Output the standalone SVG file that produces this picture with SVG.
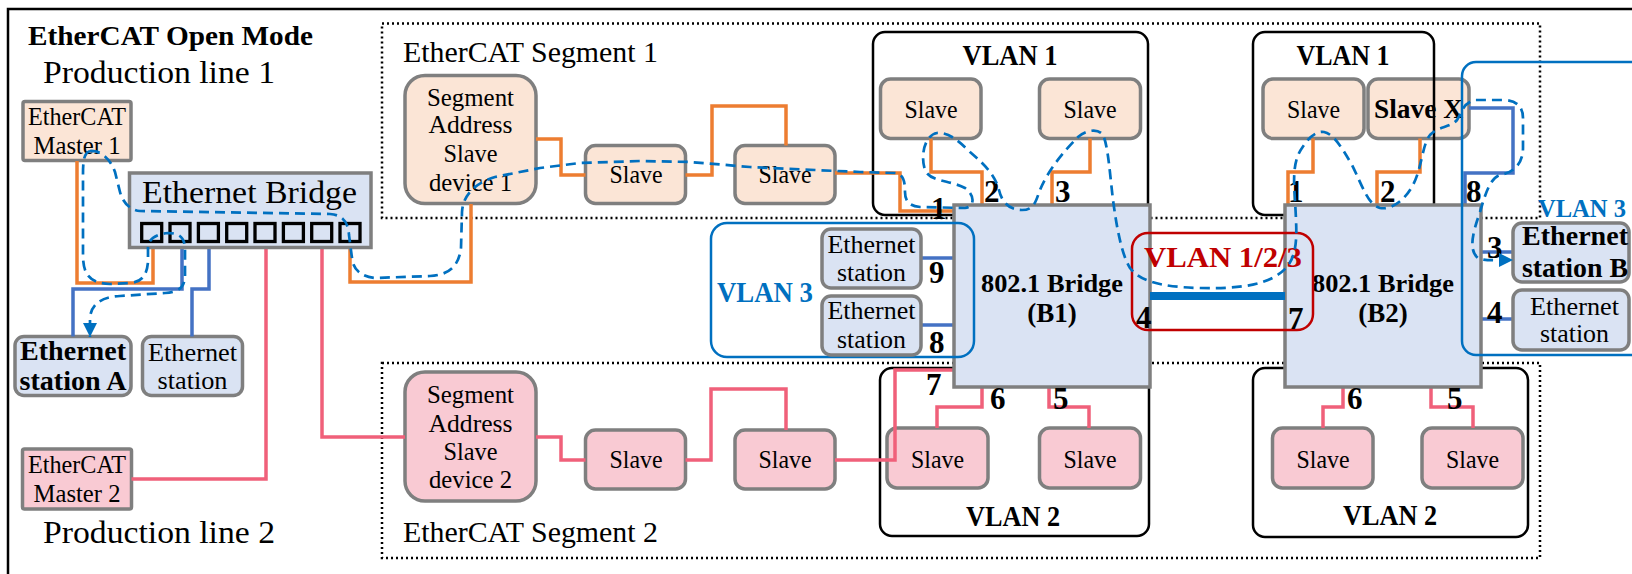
<svg xmlns="http://www.w3.org/2000/svg" width="1632" height="574" viewBox="0 0 1632 574">
<defs>
<style>
text{font-family:"Liberation Serif","Times New Roman",serif;fill:#000}
.b{font-weight:bold}
.m{text-anchor:middle}
.peach{fill:#FBE5D6;stroke:#7F7F7F;stroke-width:3.5}
.pink{fill:#F9CAD3;stroke:#7F7F7F;stroke-width:3.5}
.lb{fill:#DAE3F3;stroke:#7F7F7F;stroke-width:3.5}
.dot{fill:none;stroke:#000;stroke-width:2.5;stroke-dasharray:2 3}
.vlan{fill:none;stroke:#000;stroke-width:2.5}
.wo{fill:none;stroke:#ED7D31;stroke-width:3.5}
.wp{fill:none;stroke:#F0607A;stroke-width:3.5}
.wb{fill:none;stroke:#4472C4;stroke-width:3.5}
.dash{fill:none;stroke:#0070C0;stroke-width:2.7;stroke-dasharray:10 6}
.port{fill:#DAE3F3;stroke:#000;stroke-width:3.3}
.n{font-weight:bold;font-size:31px}
.s24{font-size:26px}
.v{font-weight:bold;font-size:29px}
</style>
<marker id="ah" markerUnits="userSpaceOnUse" markerWidth="16" markerHeight="16" refX="14" refY="7" orient="auto"><path d="M0,0 L14,7 L0,14 z" fill="#0070C0"/></marker>
</defs>
<rect x="0" y="0" width="1632" height="574" fill="#fff"/>
<rect x="8" y="9" width="1700" height="700" fill="none" stroke="#000" stroke-width="2.5"/>
<text x="28" y="45" class="b" font-size="27" textLength="285" lengthAdjust="spacingAndGlyphs">EtherCAT Open Mode</text>
<text x="43" y="83" font-size="32" textLength="232" lengthAdjust="spacingAndGlyphs">Production line 1</text>
<text x="43" y="543" font-size="32" textLength="232" lengthAdjust="spacingAndGlyphs">Production line 2</text>

<g id="segment1"><rect x="382" y="23.5" width="1158" height="194.5" class="dot"/>
<text x="403" y="62" font-size="30" textLength="255" lengthAdjust="spacingAndGlyphs">EtherCAT Segment 1</text></g>
<g id="segment2"><rect x="382" y="363" width="1158" height="195" class="dot"/>
<text x="403" y="542" font-size="30" textLength="255" lengthAdjust="spacingAndGlyphs">EtherCAT Segment 2</text></g>

<g id="master1"><rect x="23" y="101.5" width="108" height="59" rx="2" class="peach"/>
<text x="77" y="125" class="m" font-size="24.5" textLength="98" lengthAdjust="spacingAndGlyphs">EtherCAT</text>
<text x="77" y="154" class="m" font-size="24.5" textLength="87" lengthAdjust="spacingAndGlyphs">Master 1</text></g>
<g id="master2"><rect x="22.5" y="449" width="109" height="60" rx="2" class="pink"/>
<text x="77" y="473" class="m" font-size="24.5" textLength="98" lengthAdjust="spacingAndGlyphs">EtherCAT</text>
<text x="77" y="502" class="m" font-size="24.5" textLength="87" lengthAdjust="spacingAndGlyphs">Master 2</text></g>

<g id="stationA"><rect x="15" y="336.5" width="116" height="59" rx="9" class="lb"/>
<text x="73" y="360" class="m b" font-size="27" textLength="106" lengthAdjust="spacingAndGlyphs">Ethernet</text>
<text x="73" y="390" class="m b" font-size="27" textLength="107" lengthAdjust="spacingAndGlyphs">station A</text></g>
<g id="station1"><rect x="142.5" y="336.5" width="100" height="59" rx="9" class="lb"/>
<text x="192.5" y="361" class="m s24" textLength="89" lengthAdjust="spacingAndGlyphs">Ethernet</text>
<text x="192.5" y="389" class="m s24" textLength="70" lengthAdjust="spacingAndGlyphs">station</text></g>

<g id="dev1"><rect x="405" y="75.5" width="131" height="128" rx="20" class="peach"/>
<text x="470.5" y="106" class="m s24" textLength="87" lengthAdjust="spacingAndGlyphs">Segment</text>
<text x="470.5" y="133" class="m s24" textLength="84" lengthAdjust="spacingAndGlyphs">Address</text>
<text x="470.5" y="162" class="m s24" textLength="54" lengthAdjust="spacingAndGlyphs">Slave</text>
<text x="470.5" y="191" class="m s24" textLength="83" lengthAdjust="spacingAndGlyphs">device 1</text></g>
<g id="s1a"><rect x="585.5" y="145.5" width="100" height="58" rx="10" class="peach"/><text x="636" y="183" class="m s24" textLength="53" lengthAdjust="spacingAndGlyphs">Slave</text></g>
<g id="s1b"><rect x="735" y="145.5" width="100" height="58" rx="10" class="peach"/><text x="785" y="183" class="m s24" textLength="53" lengthAdjust="spacingAndGlyphs">Slave</text></g>

<g id="dev2"><rect x="405" y="372" width="131" height="129" rx="20" class="pink"/>
<text x="470.5" y="403" class="m s24" textLength="87" lengthAdjust="spacingAndGlyphs">Segment</text>
<text x="470.5" y="432" class="m s24" textLength="84" lengthAdjust="spacingAndGlyphs">Address</text>
<text x="470.5" y="460" class="m s24" textLength="54" lengthAdjust="spacingAndGlyphs">Slave</text>
<text x="470.5" y="488" class="m s24" textLength="83" lengthAdjust="spacingAndGlyphs">device 2</text></g>
<g id="s2a"><rect x="585.5" y="430" width="100" height="59" rx="10" class="pink"/><text x="636" y="468" class="m s24" textLength="53" lengthAdjust="spacingAndGlyphs">Slave</text></g>
<g id="s2b"><rect x="735" y="430" width="100" height="59" rx="10" class="pink"/><text x="785" y="468" class="m s24" textLength="53" lengthAdjust="spacingAndGlyphs">Slave</text></g>

<g id="v1a"><rect x="880.5" y="79" width="100.5" height="59.5" rx="10" class="peach"/><text x="931" y="118" class="m s24" textLength="53" lengthAdjust="spacingAndGlyphs">Slave</text></g>
<g id="v1b"><rect x="1039.5" y="79" width="101" height="59.5" rx="10" class="peach"/><text x="1090" y="118" class="m s24" textLength="53" lengthAdjust="spacingAndGlyphs">Slave</text></g>
<g id="v1c"><rect x="1263" y="79" width="101" height="59.5" rx="10" class="peach"/><text x="1313.5" y="118" class="m s24" textLength="53" lengthAdjust="spacingAndGlyphs">Slave</text></g>
<g id="slaveX"><rect x="1368" y="79" width="101" height="59.5" rx="10" class="peach"/><text x="1418.5" y="118" class="m b" font-size="28" textLength="89" lengthAdjust="spacingAndGlyphs">Slave X</text></g>
<g id="v2a"><rect x="887" y="428" width="101" height="60" rx="10" class="pink"/><text x="937.5" y="468" class="m s24" textLength="53" lengthAdjust="spacingAndGlyphs">Slave</text></g>
<g id="v2b"><rect x="1039.5" y="428" width="101" height="60" rx="10" class="pink"/><text x="1090" y="468" class="m s24" textLength="53" lengthAdjust="spacingAndGlyphs">Slave</text></g>
<g id="v2c"><rect x="1272.5" y="428" width="100.5" height="60" rx="10" class="pink"/><text x="1323" y="468" class="m s24" textLength="53" lengthAdjust="spacingAndGlyphs">Slave</text></g>
<g id="v2d"><rect x="1422" y="428" width="101" height="60" rx="10" class="pink"/><text x="1472.5" y="468" class="m s24" textLength="53" lengthAdjust="spacingAndGlyphs">Slave</text></g>

<g id="vlan1L"><rect x="873" y="32" width="275" height="183" rx="12" class="vlan"/><text x="1010" y="65" class="m v" textLength="95" lengthAdjust="spacingAndGlyphs">VLAN 1</text></g>
<g id="vlan1R"><rect x="1253" y="32" width="181" height="183" rx="12" class="vlan"/><text x="1343" y="65" class="m v" textLength="93" lengthAdjust="spacingAndGlyphs">VLAN 1</text></g>
<g id="vlan2L"><rect x="880" y="368" width="269" height="168" rx="12" class="vlan"/><text x="1013" y="526" class="m v" textLength="94" lengthAdjust="spacingAndGlyphs">VLAN 2</text></g>
<g id="vlan2R"><rect x="1253" y="368" width="275" height="169" rx="12" class="vlan"/><text x="1390" y="525" class="m v" textLength="94" lengthAdjust="spacingAndGlyphs">VLAN 2</text></g>

<g id="connectors">
<path class="wo" d="M77,161 V283 H153 V243"/>
<path class="wo" d="M350,243 V282 H471 V204"/>
<path class="wo" d="M536,139 H561 V175 H585.5"/>
<path class="wo" d="M685.5,175 H712 V106 H786 V145.5"/>
<path class="wo" d="M835,173 H900 V211 H954"/>
<path class="wo" d="M931,138.5 V172 H982 V205"/>
<path class="wo" d="M1090,138.5 V172 H1052 V205"/>
<path class="wo" d="M1313,138.5 V172 H1288 V205"/>
<path class="wo" d="M1420,138.5 V172 H1377 V205"/>
<path class="wb" d="M182,243 V289 H73 V336.5"/>
<path class="wb" d="M209,243 V289 H192 V336.5"/>
<path class="wb" d="M921,258 H954"/>
<path class="wb" d="M921,325 H954"/>
<path class="wb" d="M1469,108 H1513 V173 H1465 V205"/>
<path class="wb" d="M1481,252 H1513"/>
<path class="wb" d="M1481,319 H1513"/>
<path class="wp" d="M131.5,479 H266 V243"/>
<path class="wp" d="M322,243 V437 H405"/>
<path class="wp" d="M536,437 H561 V460 H585.5"/>
<path class="wp" d="M685.5,460 H711 V389 H786 V430"/>
<path class="wp" d="M835,460 H895 V370 H954"/>
<path class="wp" d="M982,387 V407 H937 V428"/>
<path class="wp" d="M1049,387 V407 H1089 V428"/>
<path class="wp" d="M1343,387 V407 H1323 V428"/>
<path class="wp" d="M1431,387 V407 H1473 V428"/>
</g>

<g id="ethBridge"><rect x="129.5" y="173" width="241.5" height="74.5" class="lb"/>
<text x="142" y="203" font-size="32" textLength="215" lengthAdjust="spacingAndGlyphs">Ethernet Bridge</text>
<rect x="141.7" y="223.5" width="20" height="18" class="port"/>
<rect x="170" y="223.5" width="20" height="18" class="port"/>
<rect x="198.4" y="223.5" width="20" height="18" class="port"/>
<rect x="226.7" y="223.5" width="20" height="18" class="port"/>
<rect x="255" y="223.5" width="20" height="18" class="port"/>
<rect x="283.4" y="223.5" width="20" height="18" class="port"/>
<rect x="311.7" y="223.5" width="20" height="18" class="port"/>
<rect x="340" y="223.5" width="20" height="18" class="port"/></g>

<g id="B1"><rect x="954" y="205" width="196" height="182" class="lb"/>
<text x="1052" y="292" class="m b" font-size="26" textLength="142" lengthAdjust="spacingAndGlyphs">802.1 Bridge</text>
<text x="1052" y="322" class="m b" font-size="27">(B1)</text></g>
<g id="B2"><rect x="1285" y="205" width="196" height="182" class="lb"/>
<text x="1383" y="292" class="m b" font-size="26" textLength="142" lengthAdjust="spacingAndGlyphs">802.1 Bridge</text>
<text x="1383" y="322" class="m b" font-size="27">(B2)</text></g>

<g id="vlan3L"><rect x="711" y="223" width="263" height="134" rx="16" fill="none" stroke="#0070C0" stroke-width="2.5"/>
<text x="717" y="302" class="v" style="fill:#0070C0" textLength="96" lengthAdjust="spacingAndGlyphs">VLAN 3</text></g>
<g id="st9"><rect x="822" y="229" width="99" height="59" rx="9" class="lb"/>
<text x="871.5" y="253" class="m s24" textLength="88" lengthAdjust="spacingAndGlyphs">Ethernet</text>
<text x="871.5" y="281" class="m s24" textLength="69" lengthAdjust="spacingAndGlyphs">station</text></g>
<g id="st8"><rect x="822" y="296" width="99" height="59" rx="9" class="lb"/>
<text x="871.5" y="319" class="m s24" textLength="88" lengthAdjust="spacingAndGlyphs">Ethernet</text>
<text x="871.5" y="348" class="m s24" textLength="69" lengthAdjust="spacingAndGlyphs">station</text></g>

<g id="trunk"><path d="M1150,296 H1285" stroke="#0070C0" stroke-width="8" fill="none"/></g>
<g id="vlan123"><rect x="1132" y="233" width="181" height="97" rx="16" fill="none" stroke="#C00000" stroke-width="2.5"/>
<text x="1144" y="267" class="v" style="fill:#C00000" textLength="158" lengthAdjust="spacingAndGlyphs">VLAN 1/2/3</text></g>

<g id="vlan3R"><rect x="1462" y="62" width="200" height="293" rx="14" fill="none" stroke="#0070C0" stroke-width="2.5"/>
<text x="1538" y="217" font-weight="bold" font-size="25" style="fill:#0070C0" textLength="88" lengthAdjust="spacingAndGlyphs">VLAN 3</text></g>
<g id="stB"><rect x="1513" y="223" width="116" height="59" rx="9" class="lb"/>
<text x="1575" y="245" class="m b" font-size="27" textLength="106" lengthAdjust="spacingAndGlyphs">Ethernet</text>
<text x="1575" y="277" class="m b" font-size="27" textLength="106" lengthAdjust="spacingAndGlyphs">station B</text></g>
<g id="st4"><rect x="1513" y="290" width="116" height="60" rx="9" class="lb"/>
<text x="1574.5" y="315" class="m s24" textLength="89" lengthAdjust="spacingAndGlyphs">Ethernet</text>
<text x="1574.5" y="342" class="m s24" textLength="69" lengthAdjust="spacingAndGlyphs">station</text></g>

<g id="portLabels">
<text x="931" y="219" class="n">1</text>
<text x="984" y="202" class="n">2</text>
<text x="1055" y="202" class="n">3</text>
<text x="929" y="283" class="n">9</text>
<text x="929" y="353" class="n">8</text>
<text x="926" y="395" class="n">7</text>
<text x="990" y="409" class="n">6</text>
<text x="1053" y="409" class="n">5</text>
<text x="1136" y="328" class="n">4</text>
<text x="1288" y="202" class="n">1</text>
<text x="1380" y="202" class="n">2</text>
<text x="1466" y="202" class="n">8</text>
<text x="1288" y="329" class="n">7</text>
<text x="1347" y="409" class="n">6</text>
<text x="1447" y="409" class="n">5</text>
<text x="1487" y="258" class="n">3</text>
<text x="1487" y="323" class="n">4</text>
</g>

<g id="frames">
<path class="dash" marker-end="url(#ah)" d="M90,151 C84,153 83,160 83,175 L83,255 C83,275 90,283 110,284 L130,283 C142,282 147,275 148,262 L148,248 C148,238 158,234 168,233 C180,233 185,238 185,250 L185,275 C185,288 178,292 165,293 L120,296 C100,297 91,305 90,318 L90,337"/>
<path class="dash" marker-end="url(#ah)" d="M90,151 C100,150 110,158 115,172 L120,192 C123,203 130,210 140,211 L330,214 C343,215 348,222 349,235 L352,258 C353,270 362,277 375,278 L430,276 C450,275 459,265 461,248 L462,212 C463,195 475,183 495,177 L540,168 L580,163 L640,161 L690,162 L750,167 L815,170 L860,172 L895,173 C903,174 905,180 905,192 C905,202 910,206 920,207 L965,208 C975,207 975,195 965,188 C950,180 930,182 925,170 C920,155 925,135 937,133 C948,132 958,140 970,152 C985,165 995,175 999,190 C1002,203 1010,210 1022,210 C1035,210 1036,200 1040,190 C1048,170 1065,150 1078,137 C1086,130 1098,128 1103,135 C1108,145 1110,175 1113,200 C1117,230 1122,255 1130,268 C1140,281 1160,287 1200,288 C1240,289 1270,285 1286,268 C1296,257 1297,240 1296,220 C1295,190 1290,165 1302,148 C1310,135 1318,131 1324,132 C1334,134 1342,148 1352,165 C1362,185 1368,205 1380,208 C1392,210 1405,200 1413,185 C1422,168 1422,145 1430,135 C1438,126 1450,128 1457,120 C1462,112 1463,103 1475,100 L1505,100 C1518,101 1523,108 1523,118 L1523,148 C1523,165 1512,173 1500,175 C1490,178 1485,195 1480,212 C1473,232 1468,250 1478,258 C1484,261 1495,260 1513,260"/>
</g>
</svg>
